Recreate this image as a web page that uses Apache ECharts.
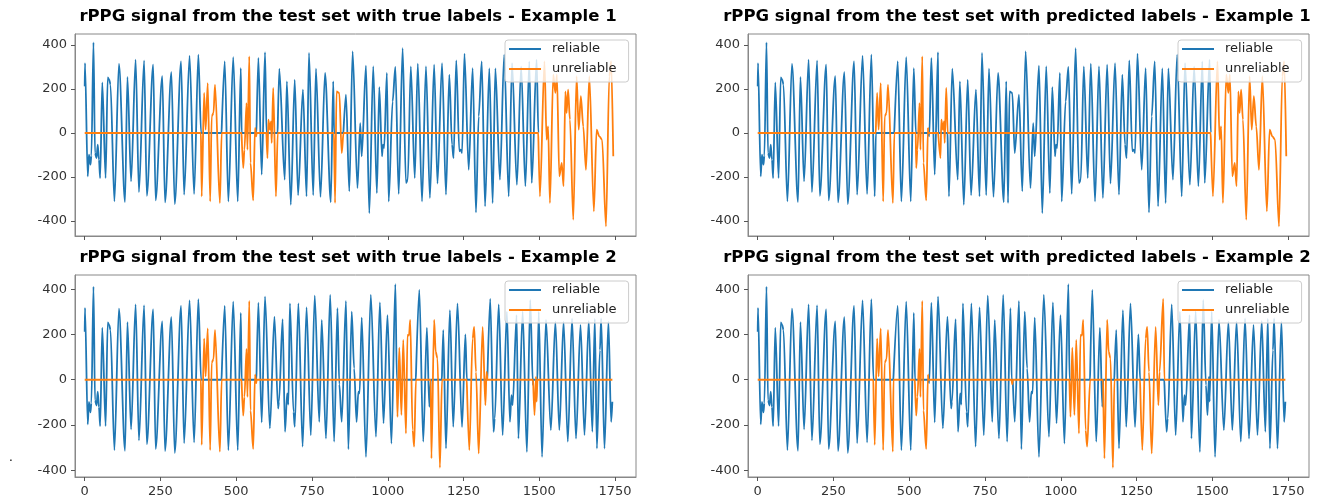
<!DOCTYPE html>
<html>
<head>
<meta charset="utf-8">
<script src="https://cdn.jsdelivr.net/npm/echarts@6/dist/echarts.min.js"></script>
<style>
html,body{margin:0;padding:0;background:#fff;}
#main{width:1325px;height:499px;}
</style>
</head>
<body>
<div id="main"></div>
<script>
// peaks / troughs, sample index and amplitude
var ex1X = [0,1,10,14,19,22,29,34,39,43,47,51,58,69,76,81,85,98,113,133,141,153,168,179,196,205,226,234,256,265,286,297,318,328,346,361,375,
	386,394,399,406,414,419,425,430,446,462,474,490,505,515,523,527,534,537,543,547,556,562,566,573,584,595,603,606,611,615,617,622,631,642,660,667,680,693,704,720,732,740,754,763,778,793,812,820,826,831,840,848,862,873,884,900,
	909,914,928,939,952,964,972,981,984,988,997,1003,1016,1025,1036,1049,1060,1066,1076,1089,1099,1113,1126,1139,1153,1164,1179,1192,1203,1212,1217,1226,1236,1241,1245,1253,1267,1280,1291,1300,1310,1321,1335,1346,1355,
	1370,1384,1399,1410,1426,1440,1454,1467,1475,1491,1502,1517,1524,1529,1535,1546,1553,1558,1566,1574,1580,1586,1590,1595,1601,1612,1623,1630,1637,1645,1654,1665,1680,1689,1698,1707,1720,1731,1737,1744];
var ex1Y = [212,318,-197,-98,-144,-103,412,-91,-114,-53,-121,-205,230,-205,253,242,220,-311,314,-314,255,-220,333,-268,329,-285,311,-306,258,-315,277,-323,326,-280,351,-277,356,
	-288,182,15,227,-311,76,91,220,-318,326,-311,345,-311,295,-159,-76,136,-76,348,-136,-306,23,-15,341,-189,367,-114,61,15,53,-45,205,-288,292,-212,235,-326,242,-283,197,-288,364,-282,292,-290,273,-314,235,-318,189,182,-91,174,-265,371,-250,
	45,-106,306,-364,303,-273,209,-106,-53,-68,273,-311,144,300,-277,386,-227,-212,303,-205,315,-311,303,-295,311,-230,318,-280,265,-53,-114,330,-83,-76,-91,361,-167,295,-361,76,326,-333,294,-318,294,
	-212,356,-288,318,-235,303,-242,326,-227,333,-288,326,-30,30,-318,265,182,265,-197,-136,-242,189,91,197,61,-394,258,15,167,30,-167,258,-356,15,-15,-30,-424,258,326,-106];

var ex2X = [0,1,10,14,19,22,29,34,39,43,47,51,58,69,76,81,85,98,113,133,141,153,168,179,196,205,226,234,256,265,286,297,318,328,346,361,375,
	386,394,399,406,414,419,425,430,446,462,474,490,505,515,523,527,534,537,543,547,556,562,566,573,584,595,
	611,626,638,641,653,661,668,672,677,689,693,705,719,732,746,759,774,782,796,810,823,834,840,848,862,870,881,889,897,903,907,
	914,928,944,961,974,986,999,1012,1025,1032,1038,1045,1051,1060,1065,1070,1074,1082,1087,1104,1117,1129,1137,1144,1153,1158,1164,1172,1183,1192,1205,1216,1230,1245,1256,1269,1280,1285,1291,1300,1313,1322,1326,1338,1349,1353,
	1366,1379,1393,1403,1408,1412,1425,1431,1445,1459,1470,1479,1484,1489,1491,1498,1509,1522,1538,1553,1566,1580,1594,1608,1621,1636,1649,1663,1675,1683,1690,1700,1704,1715,1728,1737,1741];
var ex2Y = [212,318,-197,-98,-144,-103,412,-91,-114,-53,-121,-205,230,-205,253,242,220,-311,314,-314,255,-220,333,-268,329,-285,311,-306,258,-315,277,-323,326,-280,351,-277,356,
	-288,182,15,227,-311,76,91,220,-318,326,-311,345,-311,295,-159,-76,136,-76,348,-136,-306,23,-15,341,-189,367,
	-215,279,-127,-97,268,-230,-60,-110,338,-142,-208,338,-296,320,-245,372,-186,264,-260,375,-274,316,-20,-186,348,-307,301,50,-186,-53,-60,
	274,-341,375,-252,342,-193,286,-282,422,-164,142,-156,176,-237,198,195,264,-223,-296,397,-274,230,-120,-348,264,124,94,-389,220,-304,308,-208,338,-209,200,-311,183,234,35,-326,234,-112,35,357,-230,-171,
	333,-245,301,-186,-68,-112,286,-260,301,-319,353,-24,-156,13,-97,301,-341,264,-223,257,-223,257,-274,271,-260,242,-245,260,-230,270,-304,131,271,-304,257,-186,-97];

// unreliable stretches [from, to]
var trueCuts1 = [[384,452],[518,567],[600,637],[823,854],[1497,9999]];
var predCuts1 = [[390,451],[522,562],[596,627],[1495,9999]];
var trueCuts2 = [[384,452],[518,567],[1030,1093],[1142,1179],[1261,1329],[1480,1494]];
var predCuts2 = [[382,448],[519,563],[838,842],[1029,1097],[1140,1177],[1262,1342]];

var titles = [
	'rPPG signal from the test set with true labels - Example 1',
	'rPPG signal from the test set with predicted labels - Example 1',
	'rPPG signal from the test set with true labels - Example 2',
	'rPPG signal from the test set with predicted labels - Example 2'
];
var xTicks = [0,250,500,750,1000,1250,1500,1750];
var yTicks = [-400,-200,0,200,400];

var FONT = 'DejaVu Sans';
var BLUE = '#1f77b4';
var ORANGE = '#ff7f0e';

function splitSignal(xs, ys, cuts)
{
	var last = xs[xs.length - 1];
	var ev = [];
	for (var i = 0; i < xs.length; i++) ev.push({x: xs[i], y: ys[i], t: 'p'});
	for (var c = 0; c < cuts.length; c++) {
		if (cuts[c][0] < last) ev.push({x: cuts[c][0], t: 's'});
		if (cuts[c][1] < last) ev.push({x: cuts[c][1], t: 'e'});
	}
	ev.sort(function (a, b) { return a.x - b.x; });
	var rel = [], unrel = [[xs[0], 0]], inside = false;
	for (var k = 0; k < ev.length; k++) {
		var e = ev[k];
		if (e.t == 'p') {
			if (inside) unrel.push([e.x, e.y]); else rel.push([e.x, e.y]);
		} else if (e.t == 's') {
			// flat zero run, doubled ends keep the spline from bulging
			rel.push([e.x, 0]); rel.push([e.x + 0.5, 0]);
			unrel.push([e.x - 0.5, 0]); unrel.push([e.x, 0]);
			inside = true;
		} else {
			rel.push([e.x - 0.5, 0]); rel.push([e.x, 0]);
			unrel.push([e.x, 0]); unrel.push([e.x + 0.5, 0]);
			inside = false;
		}
	}
	if (!inside) unrel.push([last, 0]);
	return {rel: rel, unrel: unrel};
}

var panels = [
	{xs: ex1X, ys: ex1Y, cuts: trueCuts1, left: 75, top: 34, ymin: -468, ymax: 450, legTop: 40, tx: 348},
	{xs: ex1X, ys: ex1Y, cuts: predCuts1, left: 748, top: 34, ymin: -468, ymax: 450, legTop: 40, tx: 1017},
	{xs: ex2X, ys: ex2Y, cuts: trueCuts2, left: 75, top: 275, ymin: -430, ymax: 463, legTop: 281, tx: 348},
	{xs: ex2X, ys: ex2Y, cuts: predCuts2, left: 748, top: 275, ymin: -430, ymax: 463, legTop: 281, tx: 1017}
];

function plain(v) { return String(v); }

var grid = [], xAxis = [], yAxis = [], series = [], legend = [], graphic = [];
for (var i = 0; i < panels.length; i++)
{
	var p = panels[i];
	var w = 561, h = 202;
	grid.push({left: p.left, top: p.top, width: w, height: h, show: true, borderColor: '#888', borderWidth: 1, backgroundColor: 'transparent'});
	xAxis.push({
		gridIndex: i, type: 'value', min: -32, max: 1819,
		axisLine: {show: true, onZero: false, lineStyle: {color: '#888', width: 1}},
		splitLine: {show: false},
		axisTick: {show: true, customValues: xTicks, length: 4, lineStyle: {color: '#555'}},
		axisLabel: {show: i >= 2, customValues: xTicks, formatter: plain, fontSize: 13, color: '#333', margin: 8, fontFamily: FONT}
	});
	yAxis.push({
		gridIndex: i, type: 'value', min: p.ymin, max: p.ymax,
		axisLine: {show: true, onZero: false, lineStyle: {color: '#888', width: 1}},
		splitLine: {show: false},
		axisTick: {show: true, customValues: yTicks, length: 4, lineStyle: {color: '#555'}},
		axisLabel: {customValues: yTicks, formatter: plain, fontSize: 13, color: '#333', margin: 8, fontFamily: FONT}
	});
	var parts = splitSignal(p.xs, p.ys, p.cuts);
	series.push({
		name: 'reliable', type: 'line', xAxisIndex: i, yAxisIndex: i,
		data: parts.rel, symbol: 'none', showSymbol: false, smooth: 0.3, smoothMonotone: 'x',
		lineStyle: {color: BLUE, width: 1.8}, itemStyle: {color: BLUE}
	});
	series.push({
		name: 'unreliable', type: 'line', xAxisIndex: i, yAxisIndex: i,
		data: parts.unrel, symbol: 'none', showSymbol: false, smooth: 0.3, smoothMonotone: 'x',
		lineStyle: {color: ORANGE, width: 1.8}, itemStyle: {color: ORANGE}
	});
	legend.push({
		data: ['reliable', 'unreliable'], orient: 'vertical', icon: 'rect',
		left: p.left + w - 131, top: p.legTop,
		padding: [2, 12, 6, 4], itemGap: 6, itemWidth: 32, itemHeight: 2,
		backgroundColor: 'rgba(255,255,255,0.8)', borderColor: '#ccc', borderWidth: 1, borderRadius: 3,
		textStyle: {fontSize: 13, lineHeight: 14, color: '#222', fontFamily: FONT, padding: [0, 0, 0, 6]}
	});
	graphic.push({
		type: 'text', x: p.tx, y: p.top - 17,
		style: {text: titles[i], align: 'center', verticalAlign: 'middle', fill: '#000',
			font: 'bold 16.5px "DejaVu Sans"'}
	});
}
graphic.push({type: 'text', x: 9, y: 452, style: {text: '.', fill: '#000', font: '12px "DejaVu Sans"'}});

var option = {
	backgroundColor: '#fff',
	animation: false,
	grid: grid,
	xAxis: xAxis,
	yAxis: yAxis,
	legend: legend,
	series: series,
	graphic: graphic
};
var myChart = echarts.init(document.getElementById('main'));
myChart.setOption(option);
</script>
</body>
</html>
